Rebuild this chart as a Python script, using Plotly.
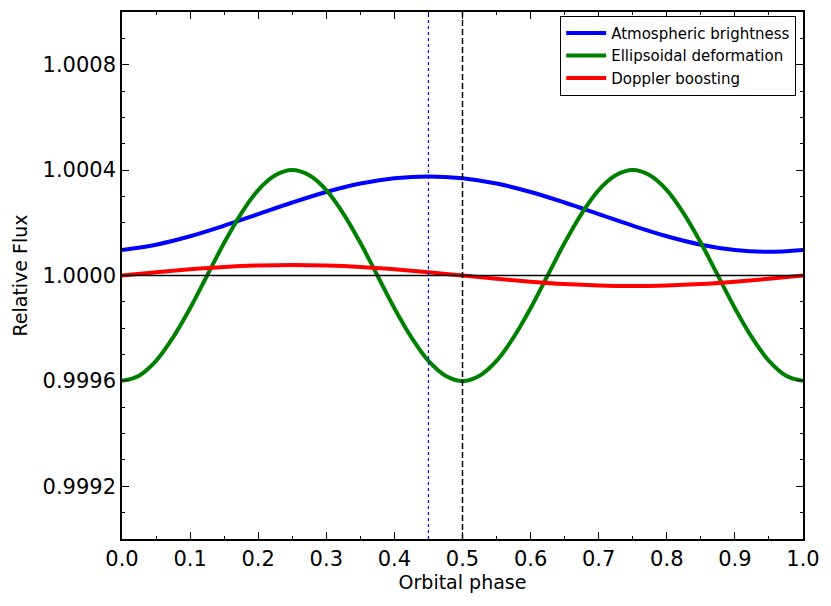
import plotly.graph_objects as go

# orbital phase grid (coarse, for the slowly varying curves)
phase = [0.0, 0.05, 0.1, 0.15, 0.2, 0.25, 0.3, 0.35, 0.4, 0.45, 0.5,
         0.55, 0.6, 0.65, 0.7, 0.75, 0.8, 0.85, 0.9, 0.95, 1.0]

# finer grid for the ellipsoidal curve (two cycles per orbit)
phase_fine = [round(0.025 * k, 3) for k in range(41)]

# flux values (relative flux - 1)
atmospheric = [0.000097, 0.000117, 0.000149, 0.000189, 0.000233, 0.000277, 0.000317,
               0.000349, 0.000369, 0.000376, 0.000369, 0.000349, 0.000317, 0.000277,
               0.000233, 0.000189, 0.000149, 0.000117, 0.000097, 0.000090, 0.000097]
ellipsoidal = [-0.0004, -0.00038, -0.000324, -0.000235, -0.000124, 0.0, 0.000124,
               0.000235, 0.000324, 0.00038, 0.0004, 0.00038, 0.000324, 0.000235,
               0.000124, 0.0, -0.000124, -0.000235, -0.000324, -0.00038, -0.0004,
               -0.00038, -0.000324, -0.000235, -0.000124, 0.0, 0.000124, 0.000235,
               0.000324, 0.00038, 0.0004, 0.00038, 0.000324, 0.000235, 0.000124,
               0.0, -0.000124, -0.000235, -0.000324, -0.00038, -0.0004]
doppler = [0.0, 0.0000124, 0.0000235, 0.0000324, 0.000038, 0.00004, 0.000038,
           0.0000324, 0.0000235, 0.0000124, 0.0, -0.0000124, -0.0000235, -0.0000324,
           -0.000038, -0.00004, -0.000038, -0.0000324, -0.0000235, -0.0000124, 0.0]

series = [
    ("Atmospheric brightness", phase, atmospheric, "#0000ff"),
    ("Ellipsoidal deformation", phase_fine, ellipsoidal, "#008000"),
    ("Doppler boosting", phase, doppler, "#ff0000"),
]

phase_peak = 0.45
phase_half = 0.5
baseline = 1.0

FONT = "DejaVu Sans, Liberation Sans, sans-serif"

fig = go.Figure()

fig.add_hline(y=baseline, line=dict(color="black", width=1.3))
fig.add_vline(x=phase_peak, line=dict(color="#0000ff", width=1.2, dash="dot"))
fig.add_vline(x=phase_half, line=dict(color="black", width=1.5, dash="6px,3px"))

for name, xs, vals, color in series:
    fig.add_trace(go.Scatter(
        x=xs, y=[baseline + v for v in vals], name=name, mode="lines",
        line=dict(color=color, width=4, shape="spline", smoothing=1.0),
    ))

axis_common = dict(
    showgrid=False, zeroline=False, showline=True, linecolor="black", linewidth=1.5,
    mirror="ticks", ticks="inside", ticklen=7, tickwidth=1, tickcolor="black",
    tickfont=dict(family=FONT, size=21, color="black"),
)

fig.update_xaxes(
    range=[0, 1], dtick=0.1, tickformat=".1f",
    minor=dict(dtick=0.05, ticks="inside", ticklen=3, tickcolor="black"),
    title=dict(text="Orbital phase", font=dict(family=FONT, size=19, color="black"), standoff=4),
    **axis_common,
)
fig.update_yaxes(
    range=[0.9990, 1.0010], tick0=0.9992, dtick=0.0004, tickformat=".4f",
    minor=dict(dtick=0.0001, ticks="inside", ticklen=3, tickcolor="black"),
    title=dict(text="Relative Flux", font=dict(family=FONT, size=19, color="black"), standoff=10),
    **axis_common,
)

# the page body adds a small margin, so the figure is sized to fit the window
fig.update_layout(
    width=823, height=598,
    margin=dict(l=114, r=28, t=2, b=67),
    paper_bgcolor="white", plot_bgcolor="white",
    font=dict(family=FONT, color="black"),
    legend=dict(
        x=0.99, y=0.993, xanchor="right", yanchor="top",
        bordercolor="black", borderwidth=1, bgcolor="white",
        font=dict(family=FONT, size=15, color="black"),
        itemwidth=40, tracegroupgap=0,
    ),
)

fig.write_html("out.html")
